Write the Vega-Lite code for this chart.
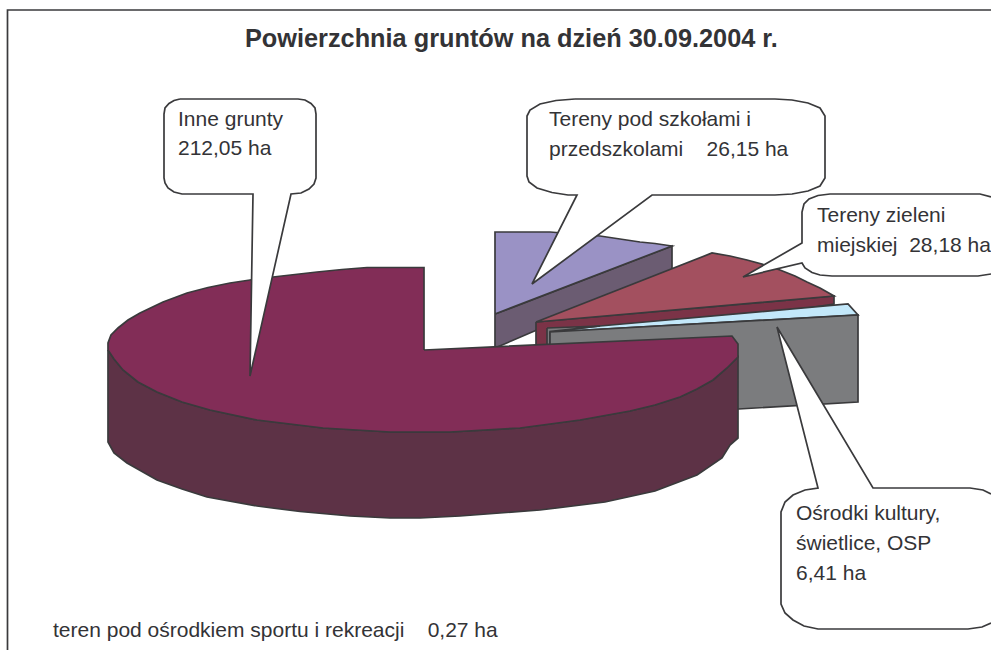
{"$schema":"https://vega.github.io/schema/vega-lite/v6.json","width":991,"height":650,"padding":0,"autosize":{"type":"fit","contains":"padding"},"background":"white","config":{"view":{"stroke":null}},
"datasets":{"shapes":[
{"part":"ramka","i":0,"x":7.5,"y":650},{"part":"ramka","i":1,"x":7.5,"y":10},{"part":"ramka","i":2,"x":991,"y":10},
{"part":"szkoly bok","i":0,"x":495,"y":314},{"part":"szkoly bok","i":1,"x":672,"y":246},{"part":"szkoly bok","i":2,"x":672,"y":272},{"part":"szkoly bok","i":3,"x":495,"y":348},{"part":"szkoly bok","i":4,"x":495,"y":314},
{"part":"szkoly","i":0,"x":495,"y":314},{"part":"szkoly","i":1,"x":495,"y":232},{"part":"szkoly","i":2,"x":550,"y":232},{"part":"szkoly","i":3,"x":575,"y":234},{"part":"szkoly","i":4,"x":600,"y":236},{"part":"szkoly","i":5,"x":620,"y":239},{"part":"szkoly","i":6,"x":640,"y":242},{"part":"szkoly","i":7,"x":655,"y":243.5},{"part":"szkoly","i":8,"x":672,"y":246},{"part":"szkoly","i":9,"x":495,"y":314},
{"part":"zielen bok","i":0,"x":536,"y":322},{"part":"zielen bok","i":1,"x":834,"y":296},{"part":"zielen bok","i":2,"x":834,"y":304},{"part":"zielen bok","i":3,"x":536,"y":350},{"part":"zielen bok","i":4,"x":536,"y":322},
{"part":"zielen","i":0,"x":536,"y":322},{"part":"zielen","i":1,"x":712,"y":253},{"part":"zielen","i":2,"x":730,"y":256},{"part":"zielen","i":3,"x":747,"y":260},{"part":"zielen","i":4,"x":765,"y":265},{"part":"zielen","i":5,"x":780,"y":270},{"part":"zielen","i":6,"x":795,"y":276},{"part":"zielen","i":7,"x":807,"y":282},{"part":"zielen","i":8,"x":820,"y":288},{"part":"zielen","i":9,"x":834,"y":296},{"part":"zielen","i":10,"x":536,"y":322},
{"part":"osrodki","i":0,"x":600,"y":326},{"part":"osrodki","i":1,"x":848,"y":304},{"part":"osrodki","i":2,"x":858,"y":315},{"part":"osrodki","i":3,"x":550,"y":332},{"part":"osrodki","i":4,"x":600,"y":326},
{"part":"sport","i":0,"x":547,"y":328},{"part":"sport","i":1,"x":600,"y":326},{"part":"sport","i":2,"x":550,"y":331.5},{"part":"sport","i":3,"x":550,"y":350},{"part":"sport","i":4,"x":547,"y":350},{"part":"sport","i":5,"x":547,"y":328},
{"part":"osrodki bok","i":0,"x":550,"y":332},{"part":"osrodki bok","i":1,"x":858,"y":315},{"part":"osrodki bok","i":2,"x":858,"y":402},{"part":"osrodki bok","i":3,"x":550,"y":420},{"part":"osrodki bok","i":4,"x":550,"y":332},
{"part":"inne bok","i":0,"x":108,"y":350},{"part":"inne bok","i":1,"x":114,"y":359},{"part":"inne bok","i":2,"x":123,"y":370},{"part":"inne bok","i":3,"x":138,"y":382},{"part":"inne bok","i":4,"x":157,"y":392},{"part":"inne bok","i":5,"x":182,"y":402},{"part":"inne bok","i":6,"x":210,"y":410},{"part":"inne bok","i":7,"x":257,"y":420},{"part":"inne bok","i":8,"x":323,"y":428},{"part":"inne bok","i":9,"x":390,"y":432},{"part":"inne bok","i":10,"x":450,"y":432},{"part":"inne bok","i":11,"x":520,"y":428},{"part":"inne bok","i":12,"x":580,"y":420},{"part":"inne bok","i":13,"x":630,"y":411},{"part":"inne bok","i":14,"x":655,"y":405},{"part":"inne bok","i":15,"x":680,"y":397},{"part":"inne bok","i":16,"x":697,"y":389},{"part":"inne bok","i":17,"x":713,"y":380},{"part":"inne bok","i":18,"x":727,"y":368},{"part":"inne bok","i":19,"x":738,"y":357},{"part":"inne bok","i":20,"x":738,"y":438},{"part":"inne bok","i":21,"x":730,"y":445},{"part":"inne bok","i":22,"x":722,"y":458},{"part":"inne bok","i":23,"x":697,"y":475},{"part":"inne bok","i":24,"x":655,"y":491},{"part":"inne bok","i":25,"x":605,"y":502},{"part":"inne bok","i":26,"x":540,"y":510},{"part":"inne bok","i":27,"x":460,"y":516},{"part":"inne bok","i":28,"x":420,"y":518},{"part":"inne bok","i":29,"x":390,"y":518},{"part":"inne bok","i":30,"x":350,"y":516},{"part":"inne bok","i":31,"x":300,"y":511.5},{"part":"inne bok","i":32,"x":257,"y":506},{"part":"inne bok","i":33,"x":207,"y":497},{"part":"inne bok","i":34,"x":182,"y":489},{"part":"inne bok","i":35,"x":157,"y":480},{"part":"inne bok","i":36,"x":127,"y":463},{"part":"inne bok","i":37,"x":114,"y":453},{"part":"inne bok","i":38,"x":108,"y":442},{"part":"inne bok","i":39,"x":108,"y":350},
{"part":"inne","i":0,"x":424,"y":350},{"part":"inne","i":1,"x":732,"y":336},{"part":"inne","i":2,"x":738,"y":344},{"part":"inne","i":3,"x":738,"y":357},{"part":"inne","i":4,"x":727,"y":368},{"part":"inne","i":5,"x":713,"y":380},{"part":"inne","i":6,"x":697,"y":389},{"part":"inne","i":7,"x":680,"y":397},{"part":"inne","i":8,"x":655,"y":405},{"part":"inne","i":9,"x":630,"y":411},{"part":"inne","i":10,"x":580,"y":420},{"part":"inne","i":11,"x":520,"y":428},{"part":"inne","i":12,"x":450,"y":432},{"part":"inne","i":13,"x":390,"y":432},{"part":"inne","i":14,"x":323,"y":428},{"part":"inne","i":15,"x":257,"y":420},{"part":"inne","i":16,"x":210,"y":410},{"part":"inne","i":17,"x":182,"y":402},{"part":"inne","i":18,"x":157,"y":392},{"part":"inne","i":19,"x":138,"y":382},{"part":"inne","i":20,"x":123,"y":370},{"part":"inne","i":21,"x":114,"y":359},{"part":"inne","i":22,"x":108,"y":350},{"part":"inne","i":23,"x":108,"y":343},{"part":"inne","i":24,"x":111,"y":335},{"part":"inne","i":25,"x":118,"y":328},{"part":"inne","i":26,"x":128,"y":320},{"part":"inne","i":27,"x":140,"y":313},{"part":"inne","i":28,"x":163,"y":302},{"part":"inne","i":29,"x":187,"y":293},{"part":"inne","i":30,"x":208,"y":287.5},{"part":"inne","i":31,"x":230,"y":283},{"part":"inne","i":32,"x":250,"y":280},{"part":"inne","i":33,"x":273,"y":277},{"part":"inne","i":34,"x":295,"y":274.5},{"part":"inne","i":35,"x":317,"y":272},{"part":"inne","i":36,"x":342,"y":269.5},{"part":"inne","i":37,"x":367,"y":267.5},{"part":"inne","i":38,"x":424,"y":267.5},{"part":"inne","i":39,"x":424,"y":350},
{"part":"dymek inne","i":0,"x":180,"y":99},{"part":"dymek inne","i":1,"x":298,"y":99},{"part":"dymek inne","i":2,"x":305,"y":100},{"part":"dymek inne","i":3,"x":311,"y":103.5},{"part":"dymek inne","i":4,"x":315,"y":108},{"part":"dymek inne","i":5,"x":316,"y":114},{"part":"dymek inne","i":6,"x":316,"y":178},{"part":"dymek inne","i":7,"x":314,"y":184},{"part":"dymek inne","i":8,"x":309,"y":189},{"part":"dymek inne","i":9,"x":301,"y":193},{"part":"dymek inne","i":10,"x":291,"y":194},{"part":"dymek inne","i":11,"x":250,"y":376},{"part":"dymek inne","i":12,"x":253,"y":194},{"part":"dymek inne","i":13,"x":182,"y":194},{"part":"dymek inne","i":14,"x":174,"y":192},{"part":"dymek inne","i":15,"x":168,"y":188},{"part":"dymek inne","i":16,"x":165,"y":183},{"part":"dymek inne","i":17,"x":164,"y":178},{"part":"dymek inne","i":18,"x":164,"y":114},{"part":"dymek inne","i":19,"x":165,"y":108},{"part":"dymek inne","i":20,"x":169,"y":103.5},{"part":"dymek inne","i":21,"x":174,"y":100.5},{"part":"dymek inne","i":22,"x":180,"y":99},
{"part":"dymek szkoly","i":0,"x":575,"y":99},{"part":"dymek szkoly","i":1,"x":775,"y":99},{"part":"dymek szkoly","i":2,"x":792,"y":100},{"part":"dymek szkoly","i":3,"x":808,"y":103},{"part":"dymek szkoly","i":4,"x":820,"y":108},{"part":"dymek szkoly","i":5,"x":825,"y":116},{"part":"dymek szkoly","i":6,"x":825,"y":178},{"part":"dymek szkoly","i":7,"x":820,"y":186},{"part":"dymek szkoly","i":8,"x":808,"y":191},{"part":"dymek szkoly","i":9,"x":792,"y":194},{"part":"dymek szkoly","i":10,"x":775,"y":195},{"part":"dymek szkoly","i":11,"x":652,"y":195},{"part":"dymek szkoly","i":12,"x":532,"y":284},{"part":"dymek szkoly","i":13,"x":577,"y":195},{"part":"dymek szkoly","i":14,"x":568,"y":195},{"part":"dymek szkoly","i":15,"x":552,"y":192.5},{"part":"dymek szkoly","i":16,"x":537,"y":188},{"part":"dymek szkoly","i":17,"x":529,"y":182},{"part":"dymek szkoly","i":18,"x":527,"y":176},{"part":"dymek szkoly","i":19,"x":527,"y":116},{"part":"dymek szkoly","i":20,"x":530,"y":110},{"part":"dymek szkoly","i":21,"x":540,"y":104},{"part":"dymek szkoly","i":22,"x":556,"y":100.5},{"part":"dymek szkoly","i":23,"x":575,"y":99},
{"part":"dymek zielen","i":0,"x":991,"y":197},{"part":"dymek zielen","i":1,"x":980,"y":194},{"part":"dymek zielen","i":2,"x":830,"y":194},{"part":"dymek zielen","i":3,"x":818,"y":195.5},{"part":"dymek zielen","i":4,"x":809,"y":199},{"part":"dymek zielen","i":5,"x":804,"y":204},{"part":"dymek zielen","i":6,"x":802,"y":212},{"part":"dymek zielen","i":7,"x":802,"y":243},{"part":"dymek zielen","i":8,"x":743,"y":277},{"part":"dymek zielen","i":9,"x":802,"y":263},{"part":"dymek zielen","i":10,"x":805,"y":268},{"part":"dymek zielen","i":11,"x":812,"y":272.5},{"part":"dymek zielen","i":12,"x":820,"y":275},{"part":"dymek zielen","i":13,"x":832,"y":276},{"part":"dymek zielen","i":14,"x":978,"y":276},{"part":"dymek zielen","i":15,"x":991,"y":274},
{"part":"dymek osrodki","i":0,"x":991,"y":494},{"part":"dymek osrodki","i":1,"x":983,"y":490},{"part":"dymek osrodki","i":2,"x":970,"y":488},{"part":"dymek osrodki","i":3,"x":873,"y":488},{"part":"dymek osrodki","i":4,"x":777,"y":327},{"part":"dymek osrodki","i":5,"x":818,"y":488},{"part":"dymek osrodki","i":6,"x":805,"y":490},{"part":"dymek osrodki","i":7,"x":793,"y":495},{"part":"dymek osrodki","i":8,"x":785,"y":502},{"part":"dymek osrodki","i":9,"x":781,"y":512},{"part":"dymek osrodki","i":10,"x":781,"y":604},{"part":"dymek osrodki","i":11,"x":785,"y":613},{"part":"dymek osrodki","i":12,"x":793,"y":620},{"part":"dymek osrodki","i":13,"x":804,"y":626},{"part":"dymek osrodki","i":14,"x":818,"y":629},{"part":"dymek osrodki","i":15,"x":968,"y":629},{"part":"dymek osrodki","i":16,"x":982,"y":627},{"part":"dymek osrodki","i":17,"x":991,"y":623}
],
"labels":[
{"kind":"title","text":"Powierzchnia gruntów na dzień 30.09.2004 r.","x":245,"y":47},
{"kind":"label","text":"Inne grunty","x":178,"y":126},
{"kind":"label","text":"212,05 ha","x":178,"y":155},
{"kind":"label","text":"Tereny pod szkołami i","x":549,"y":126},
{"kind":"label","text":"przedszkolami \u00a0\u00a0\u00a026,15 ha","x":549,"y":156},
{"kind":"label","text":"Tereny zieleni","x":817,"y":222},
{"kind":"label","text":"miejskiej \u00a028,18 ha","x":817,"y":252},
{"kind":"label","text":"Ośrodki kultury,","x":796,"y":520},
{"kind":"label","text":"świetlice, OSP","x":796,"y":550},
{"kind":"label","text":"6,41 ha","x":796,"y":580},
{"kind":"label","text":"teren pod ośrodkiem sportu i rekreacji \u00a0\u00a0\u00a00,27 ha","x":53,"y":637}
]},
"layer":[
{"data":{"name":"shapes"},"mark":{"type":"line","stroke":"#3a3a3c","strokeWidth":1.7,"clip":true},
"encoding":{"x":{"field":"x","type":"quantitative","scale":{"domain":[0,991],"nice":false,"zero":false},"axis":null},"y":{"field":"y","type":"quantitative","scale":{"domain":[650,0],"nice":false,"zero":false},"axis":null},"order":{"field":"i","type":"quantitative"},"detail":{"field":"part"},
"fill":{"field":"part","type":"nominal","legend":null,"scale":{"domain":["ramka","szkoly bok","szkoly","zielen bok","zielen","osrodki","sport","osrodki bok","inne bok","inne","dymek inne","dymek szkoly","dymek zielen","dymek osrodki"],"range":["transparent","#6b5c72","#9a92c5","#7b3347","#a3505f","#c3e8fa","#7b7c7e","#7b7c7e","#5d3246","#822d57","#ffffff","#ffffff","#ffffff","#ffffff"]}}}},
{"data":{"name":"labels"},"transform":[{"filter":"datum.kind=='label'"}],"mark":{"type":"text","align":"left","baseline":"alphabetic","font":"Liberation Sans","fontSize":21,"fill":"#333336"},"encoding":{"x":{"field":"x","type":"quantitative"},"y":{"field":"y","type":"quantitative"},"text":{"field":"text"}}},
{"data":{"name":"labels"},"transform":[{"filter":"datum.kind=='title'"}],"mark":{"type":"text","align":"left","baseline":"alphabetic","font":"Liberation Sans","fontWeight":"bold","fontSize":25.3,"fill":"#333336"},"encoding":{"x":{"field":"x","type":"quantitative"},"y":{"field":"y","type":"quantitative"},"text":{"field":"text"}}}
]}
